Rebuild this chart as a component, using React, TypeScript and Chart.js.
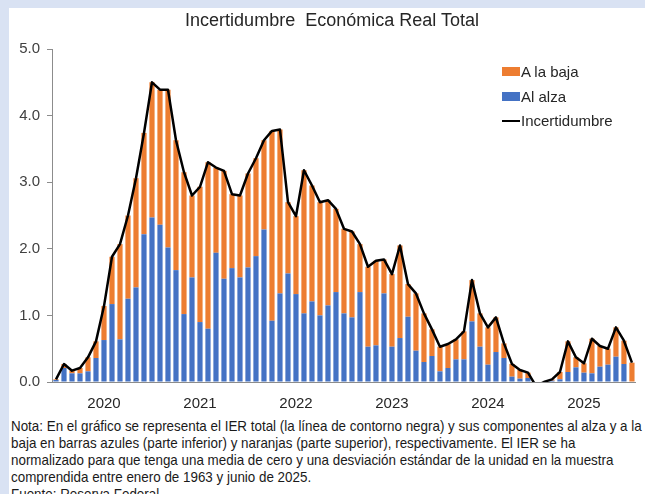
import React, { useEffect, useRef } from "react";
import { Chart, registerables } from "chart.js";

Chart.register(...registerables);

const months: string[] = [
  "2019-07", "2019-08", "2019-09", "2019-10", "2019-11", "2019-12",
  "2020-01", "2020-02", "2020-03", "2020-04", "2020-05", "2020-06", "2020-07", "2020-08", "2020-09", "2020-10", "2020-11", "2020-12",
  "2021-01", "2021-02", "2021-03", "2021-04", "2021-05", "2021-06", "2021-07", "2021-08", "2021-09", "2021-10", "2021-11", "2021-12",
  "2022-01", "2022-02", "2022-03", "2022-04", "2022-05", "2022-06", "2022-07", "2022-08", "2022-09", "2022-10", "2022-11", "2022-12",
  "2023-01", "2023-02", "2023-03", "2023-04", "2023-05", "2023-06", "2023-07", "2023-08", "2023-09", "2023-10", "2023-11", "2023-12",
  "2024-01", "2024-02", "2024-03", "2024-04", "2024-05", "2024-06", "2024-07", "2024-08", "2024-09", "2024-10", "2024-11", "2024-12",
  "2025-01", "2025-02", "2025-03", "2025-04", "2025-05", "2025-06", "2025-07",
];

// Componente al alza (barras azules, parte inferior)
const alAlza: number[] = [
  0.03, 0.21, 0.13, 0.13, 0.16, 0.36, 0.63, 1.17, 0.64, 1.25,
  1.42, 2.22, 2.47, 2.36, 2.02, 1.68, 1.02, 1.57, 0.90, 0.80,
  1.94, 1.55, 1.71, 1.57, 1.72, 1.89, 2.29, 0.92, 1.33, 1.63,
  1.32, 1.03, 1.21, 1.00, 1.15, 1.35, 1.03, 0.97, 1.35, 0.53,
  0.55, 1.33, 0.53, 0.66, 0.98, 0.47, 0.30, 0.39, 0.16, 0.21,
  0.34, 0.34, 0.91, 0.53, 0.26, 0.45, 0.36, 0.08, 0.05, 0.06,
  0.00, 0.00, 0.02, 0.04, 0.15, 0.22, 0.14, 0.13, 0.23, 0.26,
  0.38, 0.27, 0.00,
];

// Componente a la baja (barras naranjas, parte superior)
const aLaBaja: number[] = [
  0.01, 0.06, 0.04, 0.08, 0.21, 0.25, 0.51, 0.71, 1.43, 1.25,
  1.64, 1.52, 2.03, 2.03, 2.37, 1.95, 2.13, 1.23, 2.03, 2.50,
  1.28, 1.62, 1.11, 1.23, 1.41, 1.47, 1.34, 2.85, 2.46, 1.07,
  1.17, 2.15, 1.74, 1.70, 1.58, 1.25, 1.27, 1.29, 0.72, 1.20,
  1.27, 0.51, 1.09, 1.39, 0.49, 0.86, 0.73, 0.40, 0.37, 0.36,
  0.30, 0.42, 0.62, 0.50, 0.56, 0.52, 0.22, 0.19, 0.13, 0.08,
  0.00, 0.00, 0.02, 0.11, 0.46, 0.15, 0.14, 0.52, 0.31, 0.24,
  0.44, 0.35, 0.29,
];

// IER total (línea negra)
const incertidumbre: number[] = [
  0.04, 0.27, 0.17, 0.21, 0.37, 0.61, 1.14, 1.88, 2.07, 2.50,
  3.06, 3.74, 4.50, 4.39, 4.39, 3.63, 3.15, 2.80, 2.93, 3.30,
  3.22, 3.17, 2.82, 2.80, 3.13, 3.36, 3.63, 3.77, 3.79, 2.70,
  2.49, 3.18, 2.95, 2.70, 2.73, 2.60, 2.30, 2.26, 2.07, 1.73,
  1.82, 1.84, 1.62, 2.05, 1.47, 1.33, 1.03, 0.79, 0.53, 0.57,
  0.64, 0.76, 1.53, 1.03, 0.82, 0.97, 0.58, 0.27, 0.18, 0.14,
  -0.06, 0.00, 0.04, 0.15, 0.61, 0.37, 0.28, 0.65, 0.54, 0.50,
  0.82, 0.62, 0.29,
];

const yTicks: number[] = [0, 1, 2, 3, 4, 5];

const title = "Incertidumbre  Económica Real Total";
const legendLabels: string[] = ["A la baja", "Al alza", "Incertidumbre"];
const noteLines: string[] = [
  "Nota: En el gráfico se representa el IER total (la línea de contorno negra) y sus componentes al alza y a la",
  "baja en barras azules (parte inferior) y naranjas (parte superior), respectivamente. El IER se ha",
  "normalizado para que tenga una media de cero y una desviación estándar de la unidad en la muestra",
  "comprendida entre enero de 1963 y junio de 2025.",
  "Fuente: Reserva Federal.",
];

const ORANGE = "#ED7D31";
const BLUE = "#4472C4";
const AXIS = "#8c8c8c";
const FONT = "'Liberation Sans', Arial, sans-serif";

export default function App() {
  const canvasRef = useRef<HTMLCanvasElement | null>(null);

  useEffect(() => {
    const canvas = canvasRef.current;
    if (!canvas) return;
    Chart.defaults.font.family = FONT;
    const chart = new Chart(canvas, {
      type: "bar",
      data: {
        labels: months,
        datasets: [
          {
            type: "line",
            label: legendLabels[2],
            data: incertidumbre,
            borderColor: "#000000",
            borderWidth: 2.5,
            pointRadius: 0,
            tension: 0,
            borderJoinStyle: "round",
            order: 0,
            stack: "line",
          } as any,
          {
            type: "bar",
            label: legendLabels[1],
            data: alAlza,
            backgroundColor: BLUE,
            barPercentage: 0.65,
            categoryPercentage: 1,
            order: 1,
            stack: "bars",
          },
          {
            type: "bar",
            label: legendLabels[0],
            data: aLaBaja,
            backgroundColor: ORANGE,
            barPercentage: 0.65,
            categoryPercentage: 1,
            order: 1,
            stack: "bars",
          },
        ],
      },
      options: {
        responsive: false,
        animation: false,
        devicePixelRatio: 1,
        layout: { padding: { left: 0, right: 9, top: 49, bottom: 0 } },
        plugins: {
          legend: { display: false },
          tooltip: { enabled: false },
          title: { display: false },
        },
        scales: {
          x: {
            stacked: true,
            grid: { display: true, drawOnChartArea: false, drawTicks: false },
            border: { display: true, color: AXIS, width: 1 },
            ticks: {
              autoSkip: false,
              maxRotation: 0,
              minRotation: 0,
              padding: 13,
              color: "#262626",
              font: { size: 15, family: FONT },
              callback: (_v: any, i: number) =>
                months[i].endsWith("-01") ? months[i].slice(0, 4) : "",
            },
            afterFit: (s: any) => {
              s.height = 30;
            },
          },
          y: {
            stacked: true,
            min: yTicks[0],
            max: yTicks[yTicks.length - 1],
            afterBuildTicks: (s: any) => {
              s.ticks = yTicks.map((v) => ({ value: v }));
            },
            grid: {
              display: true,
              drawOnChartArea: false,
              drawTicks: true,
              tickLength: 5,
              color: AXIS,
            },
            border: { display: true, color: AXIS, width: 1 },
            ticks: {
              padding: 7,
              color: "#404040",
              font: { size: 15, family: FONT },
              callback: (v: any) => Number(v).toFixed(1),
            },
            afterFit: (s: any) => {
              s.width = 52;
            },
          },
        },
      },
    });
    return () => chart.destroy();
  }, []);

  const legendText: React.CSSProperties = {
    position: "absolute",
    left: 521,
    font: `15px ${FONT}`,
    color: "#262626",
    lineHeight: "17px",
    whiteSpace: "nowrap",
  };

  return (
    <div style={{ position: "fixed", inset: 0, background: "#d9e2f3", overflow: "hidden" }}>
      <div
        style={{
          position: "absolute",
          left: 9,
          top: 8,
          right: 0,
          bottom: 0,
          background: "#ffffff",
        }}
      />
      <canvas
        ref={canvasRef}
        width={645}
        height={412}
        style={{ position: "absolute", left: 0, top: 0, width: 645, height: 412 }}
      />
      <div
        style={{
          position: "absolute",
          left: 332,
          top: 10,
          transform: "translateX(-50%)",
          font: `18px ${FONT}`,
          lineHeight: "20px",
          color: "#262626",
          whiteSpace: "pre",
        }}
      >
        {title}
      </div>
      {/* Legend */}
      <div style={{ position: "absolute", left: 502, top: 67, width: 18, height: 9, background: ORANGE }} />
      <div style={{ ...legendText, top: 63 }}>{legendLabels[0]}</div>
      <div style={{ position: "absolute", left: 502, top: 92, width: 18, height: 9, background: BLUE }} />
      <div style={{ ...legendText, top: 88 }}>{legendLabels[1]}</div>
      <div style={{ position: "absolute", left: 502, top: 119.5, width: 18, height: 2.5, background: "#000" }} />
      <div style={{ ...legendText, top: 112 }}>{legendLabels[2]}</div>
      {/* Note */}
      <div
        style={{
          position: "absolute",
          left: 11,
          top: 417,
          font: `15px ${FONT}`,
          lineHeight: "17px",
          color: "#1a1a1a",
          whiteSpace: "nowrap",
          transform: "scaleX(0.893)",
          transformOrigin: "left top",
        }}
      >
        {noteLines.map((l, i) => (
          <div key={i}>{l}</div>
        ))}
      </div>
    </div>
  );
}
